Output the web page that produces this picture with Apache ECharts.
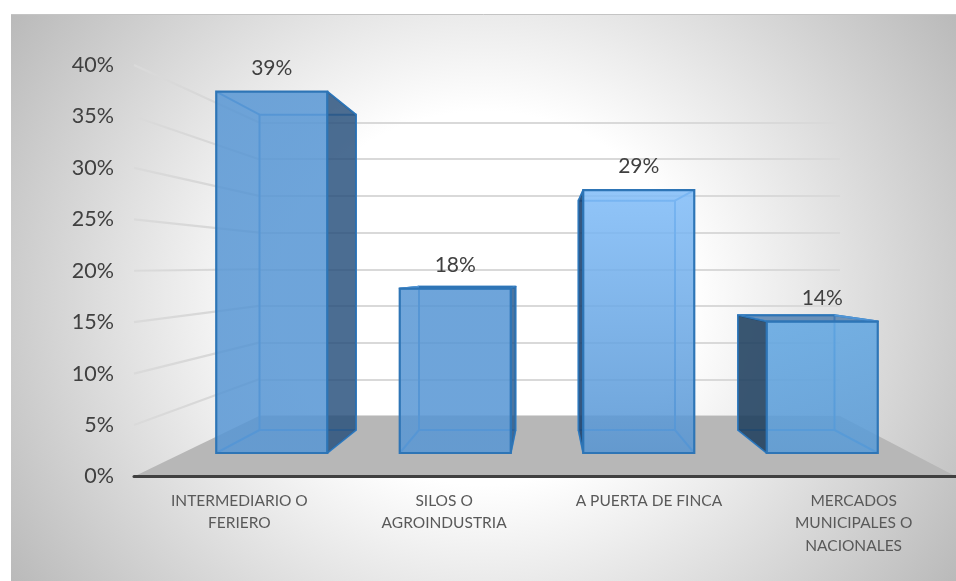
<!DOCTYPE html>
<html>
<head>
<meta charset="utf-8">
<style>html,body{margin:0;padding:0;background:#fff}#c{width:956px;height:581px}</style>
<script src="https://cdn.jsdelivr.net/npm/echarts@6/dist/echarts.min.js"></script>
</head>
<body>
<div id="c"></div>
<script>
var categories = ['INTERMEDIARIO O\nFERIERO', 'SILOS O\nAGROINDUSTRIA', 'A PUERTA DE FINCA', 'MERCADOS\nMUNICIPALES O\nNACIONALES'];
var values = [39.29, 17.86, 28.57, 14.29];
var yTicks = [0, 5, 10, 15, 20, 25, 30, 35, 40];

var FONT = 'Lato, "Open Sans", sans-serif';
var barFrac = 0.605;
var frontFills = [
  ['rgba(87,150,212,0.85)', 'rgba(87,150,212,0.85)'],
  ['rgba(87,150,212,0.85)', 'rgba(87,150,212,0.85)'],
  ['rgba(128,188,248,0.85)', 'rgba(85,148,210,0.85)'],
  ['rgba(96,166,226,0.85)', 'rgba(88,154,214,0.85)']
];
var sideFills = ['rgba(38,78,122,0.82)', 'rgba(38,88,140,0.82)', 'rgba(25,65,110,0.88)', 'rgba(28,60,92,0.86)'];
var chart = echarts.init(document.getElementById('c'), null, {renderer: 'canvas'});

function hiddenX(i, type) {
  var o = {gridIndex: i, type: type, show: false};
  if (type === 'value') { o.min = 0; o.max = 1; } else { o.data = categories; }
  return o;
}
function hiddenY(i) { return {gridIndex: i, type: 'value', min: 0, max: 40, interval: 5, show: false}; }

function toPx(g, p) { return chart.convertToPixel({gridIndex: g}, p); }

function renderFloor() {
  var a = toPx(0, [0, 0]), b = toPx(0, [1, 0]), c = toPx(1, [1, 0]), d = toPx(1, [0, 0]);
  return {type: 'polygon', shape: {points: [a, b, c, d]}, style: {fill: '#b7b7b7'}};
}
function renderSide(params, api) {
  var v = api.value(1);
  var a = api.coord([0, v]), b = toPx(1, [0, v]);
  return {type: 'line', shape: {x1: a[0], y1: a[1], x2: b[0], y2: b[1]},
    style: {stroke: new echarts.graphic.LinearGradient(0, 0, 1, 0, [
      {offset: 0, color: '#dadada'}, {offset: 1, color: '#d6d6d6'}]), lineWidth: 2.2}};
}
function renderBar(params, api) {
  var i = api.value(0), v = api.value(1);
  var fw = api.size([1, 0])[0] * barFrac;
  var bw = (toPx(3, [1, 0])[0] - toPx(3, [0, 0])[0]) * barFrac;
  var f0 = api.coord([i, 0]), f1 = api.coord([i, v]);
  var b0 = toPx(3, [i, 0]), b1 = toPx(3, [i, v]);
  var fl = f0[0] - fw / 2, fr = f0[0] + fw / 2, bl = b0[0] - bw / 2, br = b0[0] + bw / 2;
  var ch = [];
  var edge = '#2e75b6', inner = '#5095d6', dark = sideFills[i];
  ch.push({type: 'polygon', z2: 1, shape: {points: [[bl, b1[1]], [br, b1[1]], [br, b0[1]], [bl, b0[1]]]},
    style: {fill: 'rgba(87,150,212,0.08)', stroke: inner, lineWidth: 2}});
  if (b1[1] < f1[1]) {
    ch.push({type: 'polygon', z2: 2, shape: {points: [[fl, f1[1]], [fr, f1[1]], [br, b1[1]], [bl, b1[1]]]},
      style: {fill: 'rgba(62,112,165,0.72)', stroke: edge, lineWidth: 2, lineJoin: 'round'}});
  }
  [[fl, f1[1], bl, b1[1]], [fr, f1[1], br, b1[1]], [fl, f0[1], bl, b0[1]], [fr, f0[1], br, b0[1]]].forEach(function (e) {
    ch.push({type: 'line', z2: 3, shape: {x1: e[0], y1: e[1], x2: e[2], y2: e[3]}, style: {stroke: inner, lineWidth: 2}});
  });
  if (br > fr) {
    ch.push({type: 'polygon', z2: 4, shape: {points: [[fr, f1[1]], [br, b1[1]], [br, b0[1]], [fr, f0[1]]]},
      style: {fill: dark, stroke: edge, lineWidth: 1.5, lineJoin: 'round'}});
  }
  if (bl < fl) {
    ch.push({type: 'polygon', z2: 4, shape: {points: [[fl, f1[1]], [bl, b1[1]], [bl, b0[1]], [fl, f0[1]]]},
      style: {fill: dark, stroke: edge, lineWidth: 1.5, lineJoin: 'round'}});
  }
  ch.push({type: 'polygon', z2: 5, shape: {points: [[fl, f1[1]], [fr, f1[1]], [fr, f0[1]], [fl, f0[1]]]},
    style: {
      fill: new echarts.graphic.LinearGradient(0, 0, 0, 1, [
        {offset: 0, color: frontFills[i][0]}, {offset: 1, color: frontFills[i][1]}]),
      stroke: edge, lineWidth: 2.2, lineJoin: 'miter'
    }});
  ch.push({type: 'text', z2: 6, x: f0[0], y: f1[1] - 23.5,
    style: {text: Math.round(v) + '%', fill: '#404040', font: '21px ' + FONT, align: 'center', verticalAlign: 'middle'}});
  return {type: 'group', children: ch};
}

chart.setOption({
  animation: false,
  backgroundColor: 'transparent',
  graphic: [
    {type: 'rect', z: -10, x: 11, y: -127, scaleX: 0.945, scaleY: 0.85, silent: true,
      shape: {x: 0, y: 0, width: 1000, height: 1000},
      style: {fill: new echarts.graphic.RadialGradient(0.5, 0.5, 0.72, [
        {offset: 0, color: '#ffffff'}, {offset: 0.305, color: '#ffffff'}, {offset: 1, color: '#a4a4a4'}])}},
    {type: 'rect', z: -9, silent: true, shape: {x: 0, y: 0, width: 956, height: 14}, style: {fill: '#ffffff'}},
    {type: 'line', z: -8, silent: true, shape: {x1: 11, y1: 14.5, x2: 956, y2: 14.5}, style: {stroke: '#c4c4c4', lineWidth: 1}}
  ],
  grid: [
    {left: 134, right: 0, top: 65, bottom: 104.5},
    {left: 259, right: 116, top: 122.5, bottom: 165},
    {left: 180, right: 42, top: 85, bottom: 128},
    {left: 228, right: 90, top: 109, bottom: 151},
    {left: 137, width: 821, top: 65, bottom: 104.5}
  ],
  xAxis: [
    {gridIndex: 0, type: 'value', min: 0, max: 1, z: 4, splitLine: {show: false}, axisTick: {show: false}, axisLabel: {show: false},
      axisLine: {show: true, onZero: false, lineStyle: {color: '#404040', width: 3}}},
    hiddenX(1, 'value'), hiddenX(2, 'category'), hiddenX(3, 'category'),
    {gridIndex: 4, type: 'category', data: categories, axisLine: {show: false}, axisTick: {show: false},
      axisLabel: {interval: 0, margin: 13, color: '#595959', fontSize: 15.5, lineHeight: 22.5, fontFamily: FONT, verticalAlign: 'top'}}
  ],
  yAxis: [
    {gridIndex: 0, type: 'value', min: 0, max: 40, interval: 5, splitLine: {show: false}, axisLine: {show: false}, axisTick: {show: false},
      axisLabel: {margin: 20, color: '#404040', fontSize: 21.5, fontFamily: FONT, formatter: '{value}%', padding: [3, 0, 0, 0]}},
    {gridIndex: 1, type: 'value', min: 0, max: 40, interval: 5, axisLine: {show: false}, axisTick: {show: false}, axisLabel: {show: false},
      splitLine: {show: true, lineStyle: {color: '#d9d9d9', width: 2.2}}},
    hiddenY(2), hiddenY(3), hiddenY(4)
  ],
  series: [
    {type: 'custom', xAxisIndex: 0, yAxisIndex: 0, z: 1, silent: true, data: [[0, 0]], renderItem: renderFloor},
    {type: 'custom', xAxisIndex: 0, yAxisIndex: 0, z: 1, silent: true,
      data: yTicks.slice(1).map(function (t) { return [0, t]; }), renderItem: renderSide},
    {type: 'custom', xAxisIndex: 2, yAxisIndex: 2, z: 5, silent: true,
      data: values.map(function (v, i) { return [i, v]; }), renderItem: renderBar}
  ]
});
</script>
</body>
</html>
